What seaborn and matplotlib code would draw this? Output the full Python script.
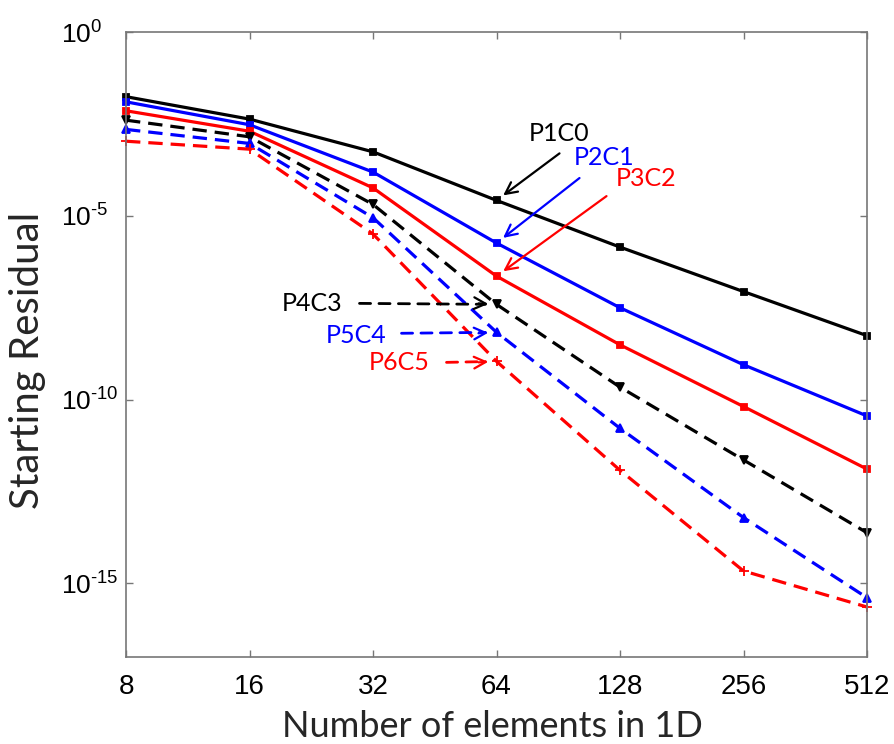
import numpy as np
import pandas as pd
import matplotlib
matplotlib.use("Agg")
import matplotlib.pyplot as plt
import seaborn as sns

# Number of elements in 1D
n_elements = [8, 16, 32, 64, 128, 256, 512]

# Starting residual per discretisation
p1c0 = [1.74e-2, 4.27e-3, 5.5e-4, 2.63e-5, 1.41e-6, 8.7e-8, 5.5e-9]
p2c1 = [1.26e-2, 3.0e-3, 1.55e-4, 1.82e-6, 3.16e-8, 8.9e-10, 3.6e-11]
p3c2 = [7.2e-3, 2.0e-3, 5.75e-5, 2.29e-7, 3.1e-9, 6.5e-11, 1.29e-12]
p4c3 = [4.0e-3, 1.41e-3, 2.04e-5, 3.9e-8, 2.19e-10, 2.29e-12, 2.4e-14]
p5c4 = [2.24e-3, 9.3e-4, 8.9e-6, 6.8e-9, 1.66e-11, 6.2e-14, 4.1e-16]
p6c5 = [1.07e-3, 6.5e-4, 3.2e-6, 1.10e-9, 1.20e-12, 2.19e-15, 2.29e-16]

series_names = ["P1C0", "P2C1", "P3C2", "P4C3", "P5C4", "P6C5"]
series_values = [p1c0, p2c1, p3c2, p4c3, p5c4, p6c5]

y_ticks = [1e0, 1e-5, 1e-10, 1e-15]
y_tick_labels = [r"$\mathregular{10^{0}}$", r"$\mathregular{10^{\text{-}5}}$",
                 r"$\mathregular{10^{\text{-}10}}$", r"$\mathregular{10^{\text{-}15}}$"]
x_tick_labels = ["8", "16", "32", "64", "128", "256", "512"]

sns.set_theme(style="ticks")
plt.rcParams["font.family"] = ["Liberation Sans", "DejaVu Sans"]
plt.rcParams["mathtext.fontset"] = "custom"
plt.rcParams["mathtext.rm"] = "Liberation Sans"

styles = {
    "P1C0": dict(color="black", marker="s", ms=4.5, ls="-"),
    "P2C1": dict(color="#0000ff", marker="s", ms=4.5, ls="-"),
    "P3C2": dict(color="#ff0000", marker="s", ms=4.5, ls="-"),
    "P4C3": dict(color="black", marker="v", ms=6, ls=(0, (4.5, 2.5))),
    "P5C4": dict(color="#0000ff", marker="^", ms=6, ls=(0, (4.5, 2.5))),
    "P6C5": dict(color="#ff0000", marker="+", ms=7, ls=(0, (4.5, 2.5))),
}

W, H = 894, 744
fig = plt.figure(figsize=(W / 100, H / 100), dpi=100)
ax = fig.add_axes([126 / W, 1 - 657 / H, (867 - 126) / W, (657 - 32) / H])

frames = []
for name, vals in zip(series_names, series_values):
    frames.append(pd.DataFrame({"n": n_elements, "residual": vals, "scheme": name}))
df = pd.concat(frames, ignore_index=True)

for name in series_names:
    st = styles[name]
    sub = df[df["scheme"] == name]
    sns.lineplot(data=sub, x="n", y="residual", ax=ax, color=st["color"],
                 marker=st["marker"], markersize=st["ms"], linestyle=st["ls"],
                 linewidth=2.3, markeredgecolor=st["color"], markeredgewidth=1.3,
                 legend=False, clip_on=False)

ax.set_xscale("log", base=2)
ax.set_yscale("log")
ax.set_xlim(8, 512)
ax.set_ylim(1e-17, 1e0)
ax.set_xticks(n_elements)
ax.set_xticklabels(x_tick_labels)
ax.set_yticks(y_ticks)
ax.set_yticklabels(y_tick_labels)
ax.minorticks_off()
ax.xaxis.set_minor_locator(matplotlib.ticker.NullLocator())
ax.yaxis.set_minor_locator(matplotlib.ticker.NullLocator())

for sp in ax.spines.values():
    sp.set_color("#777777")
    sp.set_linewidth(1.2)
ax.tick_params(direction="in", length=5, width=1, color="#777777",
               top=True, right=True)
ax.tick_params(axis="x", labelsize=20, pad=12, labelcolor="black")
ax.tick_params(axis="y", labelsize=19, pad=47, labelcolor="black")
for lab in ax.get_yticklabels():
    lab.set_horizontalalignment("left")

ax.set_xlabel("Number of elements in 1D", fontsize=26, family=["Lato", "DejaVu Sans"],
              va="baseline")
ax.set_ylabel("Starting Residual", fontsize=29, family=["Lato", "DejaVu Sans"])
ax.xaxis.set_label_coords(0.494, -(737 - 657) / 625)
ax.yaxis.set_label_coords(-0.108, 0.475)

# Labels with arrows pointing at the 64-element results
notes = [
    ("P1C0", 0, (63, 47), (63, 67), "-"),
    ("P2C1", 1, (83, 65), (108, 86), "-"),
    ("P3C2", 2, (110, 80), (150, 98), "-"),
    ("P4C3", 3, (-137, 1), (-184, 1), "--"),
    ("P5C4", 4, (-95, -1), (-140, -3), "--"),
    ("P6C5", 5, (-50, -1), (-97, -1), "--"),
]
idx64 = n_elements.index(64)
for name, k, start, text_off, ls in notes:
    col = styles[name]["color"]
    pt = (n_elements[idx64], series_values[k][idx64])
    if ls == "-":
        ax.annotate("", xy=pt, xytext=start, textcoords="offset pixels",
                    arrowprops=dict(arrowstyle="->,head_length=0.7,head_width=0.35",
                                    color=col, lw=1.6, shrinkA=0, shrinkB=6))
    else:
        ax.annotate("", xy=pt, xytext=start, textcoords="offset pixels",
                    arrowprops=dict(arrowstyle="-", color=col, lw=2.0,
                                    linestyle=(0, (4, 3)), shrinkA=0, shrinkB=8))
        ax.annotate("", xy=pt, xytext=(-18, start[1]), textcoords="offset pixels",
                    arrowprops=dict(arrowstyle="->,head_length=0.7,head_width=0.35",
                                    color=col, lw=1.6, shrinkA=0, shrinkB=6))
    ax.annotate(name, xy=pt, xytext=text_off, textcoords="offset pixels",
                ha="center", va="center", fontsize=18, color=col,
                family=["Lato", "DejaVu Sans"])

fig.savefig("out.png", dpi=100)
